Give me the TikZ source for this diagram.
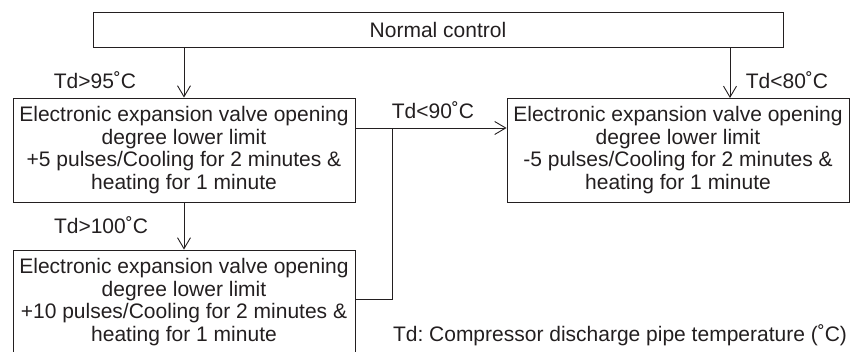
\documentclass[tikz,border=0pt]{standalone}
\usepackage{fontspec}
\setmainfont{Liberation Sans}
\frenchspacing
\usetikzlibrary{arrows.meta,positioning}
\definecolor{Ink}{HTML}{231F20}

\begin{document}
\begin{tikzpicture}[x=1pt,y=-1pt,
  font=\fontsize{21}{22.5}\selectfont, text=Ink,
  stage/.style={draw=Ink,line width=0.9pt,align=center,inner sep=0pt,
    minimum width=342pt,minimum height=104pt},
  flow/.style={draw=Ink,line width=0.9pt,-{Straight Barb[length=11pt,width=13pt,line width=0.9pt]}},
  tie/.style={draw=Ink,line width=0.9pt}]
\useasboundingbox (0,0) rectangle (855,352);
% Control boxes.
\node[draw=Ink,line width=0.9pt,minimum width=690pt,minimum height=35pt,inner sep=0pt]
  (normal) at (438,29.5) {Normal control};
\node[stage] (upfive) at (184,150)
  {Electronic expansion valve opening\\degree lower limit\\
   +5 pulses/Cooling for 2 minutes \&\\heating for 1 minute};
\node[stage] (downfive) at (678,150)
  {Electronic expansion valve opening\\degree lower limit\\
   -5 pulses/Cooling for 2 minutes \&\\heating for 1 minute};
\node[stage] (upten) at (184,302)
  {Electronic expansion valve opening\\degree lower limit\\
   +10 pulses/Cooling for 2 minutes \&\\heating for 1 minute};

% Transitions.
\coordinate (tap) at (730,98);
\coordinate (join) at (392.5,128);
\draw[flow] (normal.south -| upfive.north) -- (upfive.north);
\draw[flow] (normal.south -| tap) -- (tap);
\draw[flow] (upfive.south) -- (upten.north);
\draw[flow] (upfive.east |- join) -- (downfive.west |- join);
\draw[tie] (upten.east |- 0,299) -| (join);

\node (hot) at (95,80) {Td>95˚C};
\node (cool) at (787,80) {Td<80˚C};
\node (hotter) at (101,225) {Td>100˚C};
\node (back) at (433,110) {Td<90˚C};
\node (note) at (620,335) {Td: Compressor discharge pipe temperature (˚C)};
\end{tikzpicture}
\end{document}
